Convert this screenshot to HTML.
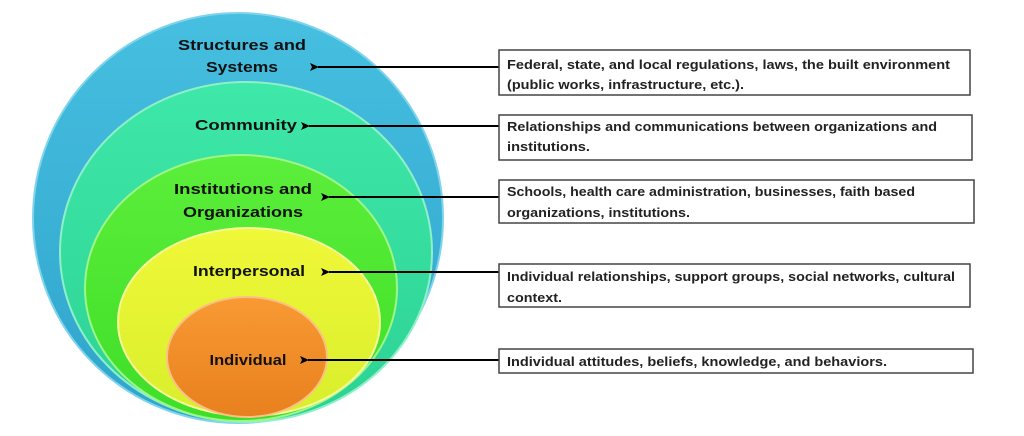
<!DOCTYPE html>
<html><head><meta charset="utf-8"><style>
html,body{margin:0;padding:0;background:#fff;}
svg{display:block;}
text{font-family:"Liberation Sans",sans-serif;font-weight:bold;}
</style></head><body>
<svg width="1024" height="436" viewBox="0 0 1024 436" xmlns="http://www.w3.org/2000/svg">
<defs>
<linearGradient id="gb" x1="0" y1="0" x2="0" y2="1"><stop offset="0" stop-color="#46bfe0"/><stop offset="1" stop-color="#2fa4cc"/></linearGradient>
<linearGradient id="gc" x1="0" y1="0" x2="0" y2="1"><stop offset="0" stop-color="#3ee8a8"/><stop offset="1" stop-color="#2cd294"/></linearGradient>
<linearGradient id="gi" x1="0" y1="0" x2="0" y2="1"><stop offset="0" stop-color="#5cee3a"/><stop offset="1" stop-color="#3ede28"/></linearGradient>
<linearGradient id="gp" x1="0" y1="0" x2="0" y2="1"><stop offset="0" stop-color="#f0f838"/><stop offset="1" stop-color="#d8ee2c"/></linearGradient>
<linearGradient id="go" x1="0" y1="0" x2="0" y2="1"><stop offset="0" stop-color="#f89a34"/><stop offset="1" stop-color="#e8801e"/></linearGradient>
<marker id="ah" markerWidth="10" markerHeight="8" refX="1" refY="4" orient="auto" markerUnits="userSpaceOnUse"><path d="M0,4 L9,0 L7,4 L9,8 Z" fill="#000"/></marker>
</defs>
<ellipse cx="238" cy="218" rx="205" ry="205" fill="url(#gb)" stroke="#7fd4ec" stroke-width="2"/>
<ellipse cx="246" cy="252" rx="186" ry="170" fill="url(#gc)" stroke="#8ff0c8" stroke-width="2"/>
<ellipse cx="241" cy="288" rx="156" ry="133" fill="url(#gi)" stroke="#9ef58a" stroke-width="2"/>
<ellipse cx="249" cy="322" rx="131" ry="94" fill="url(#gp)" stroke="#f6fb9a" stroke-width="2"/>
<ellipse cx="247" cy="357" rx="80" ry="60" fill="url(#go)" stroke="#fbc084" stroke-width="2"/>
<g font-size="15" fill="#111" text-anchor="middle">
<text x="242" y="50" textLength="128" lengthAdjust="spacingAndGlyphs">Structures and</text>
<text x="242" y="72" textLength="72" lengthAdjust="spacingAndGlyphs">Systems</text>
<text x="246" y="130" textLength="102" lengthAdjust="spacingAndGlyphs">Community</text>
<text x="243" y="194" textLength="138" lengthAdjust="spacingAndGlyphs">Institutions and</text>
<text x="243" y="217" textLength="120" lengthAdjust="spacingAndGlyphs">Organizations</text>
<text x="249" y="276" textLength="112" lengthAdjust="spacingAndGlyphs">Interpersonal</text>
<text x="248" y="365" textLength="77" lengthAdjust="spacingAndGlyphs">Individual</text>
</g>
<g stroke="#000" stroke-width="2" marker-end="url(#ah)">
<line x1="499" y1="67" x2="318" y2="67"/>
<line x1="499" y1="126" x2="309" y2="126"/>
<line x1="499" y1="197" x2="329" y2="197"/>
<line x1="499" y1="272" x2="329" y2="272"/>
<line x1="499" y1="360" x2="308" y2="360"/>
</g>
<g fill="#fff" stroke="#444" stroke-width="1.5">
<rect x="499" y="50" width="471" height="45"/>
<rect x="499" y="115" width="473" height="45"/>
<rect x="499" y="180" width="475" height="43"/>
<rect x="499" y="264" width="471" height="43"/>
<rect x="499" y="349" width="474" height="24"/>
</g>
<g font-size="12.5" fill="#222" lengthAdjust="spacingAndGlyphs">
<text x="507" y="69" textLength="443" lengthAdjust="spacingAndGlyphs">Federal, state, and local regulations, laws, the built environment</text>
<text x="507" y="89" textLength="237" lengthAdjust="spacingAndGlyphs">(public works, infrastructure, etc.).</text>
<text x="507" y="131" textLength="430" lengthAdjust="spacingAndGlyphs">Relationships and communications between organizations and</text>
<text x="507" y="151" textLength="83" lengthAdjust="spacingAndGlyphs">institutions.</text>
<text x="507" y="196" textLength="408" lengthAdjust="spacingAndGlyphs">Schools, health care administration, businesses, faith based</text>
<text x="507" y="217" textLength="183" lengthAdjust="spacingAndGlyphs">organizations, institutions.</text>
<text x="507" y="281" textLength="448" lengthAdjust="spacingAndGlyphs">Individual relationships, support groups, social networks, cultural</text>
<text x="507" y="302" textLength="55" lengthAdjust="spacingAndGlyphs">context.</text>
<text x="507" y="366" textLength="380" lengthAdjust="spacingAndGlyphs">Individual attitudes, beliefs, knowledge, and behaviors.</text>
</g>
</svg>
</body></html>
